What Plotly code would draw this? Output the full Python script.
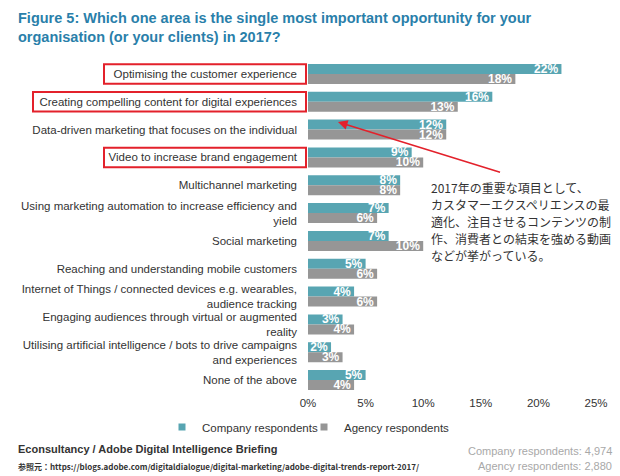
import plotly.graph_objects as go

categories = [
    "Optimising the customer experience",
    "Creating compelling content for digital experiences",
    "Data-driven marketing that focuses on the individual",
    "Video to increase brand engagement",
    "Multichannel marketing",
    "Using marketing automation to increase efficiency and<br>yield",
    "Social marketing",
    "Reaching and understanding mobile customers",
    "Internet of Things / connected devices e.g. wearables,<br>audience tracking",
    "Engaging audiences through virtual or augmented<br>reality",
    "Utilising artificial intelligence / bots to drive campaigns<br>and experiences",
    "None of the above",
]
company = [22, 16, 12, 9, 8, 7, 7, 5, 4, 3, 2, 5]
agency = [18, 13, 12, 10, 8, 6, 10, 6, 6, 4, 3, 4]
x_ticks = [0, 5, 10, 15, 20, 25]
highlighted = [0, 1, 3]

jp_lines = [
    "2017年の重要な項目として、",
    "カスタマーエクスペリエンスの最",
    "適化、注目させるコンテンツの制",
    "作、消費者との結束を強める動画",
    "などが挙がっている。",
]

TEAL = "#58a5b2"
GRAY = "#969696"
FONT = "Liberation Sans, Arial, sans-serif"

W, H = 620, 476
L, R, T, B = 308, 24, 60, 82
PW, PH = W - L - R, H - T - B

def px(x):
    return (x - L) / PW

def py(y):
    return 1 - (y - T) / PH

fig = go.Figure()
series = [("Company respondents", company, TEAL, "legend"), ("Agency respondents", agency, GRAY, "legend2")]
for name, vals, col, leg in series:
    fig.add_trace(go.Bar(
        y=categories, x=vals, orientation="h", name=name,
        marker=dict(color=col, line=dict(width=0)),
        text=[f"{v}%" for v in vals], textposition="inside", insidetextanchor="end",
        textangle=0, constraintext="none",
        insidetextfont=dict(color="white", size=12, family=FONT, weight="bold"),
        showlegend=False, hoverinfo="skip",
    ))
    fig.add_trace(go.Scatter(
        x=[None], y=[None], mode="markers", name=name, legend=leg,
        marker=dict(symbol="square", size=7, color=col),
    ))

shapes = []
box_left = {0: 104, 1: 33, 3: 104}
for i in highlighted:
    shapes.append(dict(
        type="rect", xref="paper", yref="y",
        x0=px(box_left[i]), x1=px(306), y0=i - 0.35, y1=i + 0.35,
        line=dict(color="#e3212b", width=2), fillcolor="rgba(0,0,0,0)",
    ))

annotations = [
    dict(x=px(16), y=py(8), xref="paper", yref="paper", xanchor="left", yanchor="top", align="left",
         text="<b>Figure 5: Which one area is the single most important opportunity for your<br>organisation (or your clients) in 2017?</b>",
         showarrow=False, font=dict(family=FONT, size=14.5, color="#2a7faa")),
    dict(x=2.6, y=1.73, xref="x", yref="y", ax=16.8, ay=3.55, axref="x", ayref="y",
         showarrow=True, arrowhead=2, arrowsize=1.2, arrowwidth=1.6, arrowcolor="#e3212b", text=""),
]
for k, line in enumerate(jp_lines):
    annotations.append(dict(
        x=px(429), y=py(187 + 17 * k), xref="paper", yref="paper", xanchor="left", yanchor="middle",
        text=line, showarrow=False, font=dict(family="Noto Sans CJK JP", size=12, color="#333333"),
    ))
annotations += [
    dict(x=px(16), y=py(449), xref="paper", yref="paper", xanchor="left", yanchor="middle",
         text="<b>Econsultancy / Adobe Digital Intelligence Briefing</b>", showarrow=False,
         font=dict(family=FONT, size=11, color="#333333")),
    dict(x=px(16), y=py(466), xref="paper", yref="paper", xanchor="left", yanchor="middle",
         text="<b>参照元：https://blogs.adobe.com/digitaldialogue/digital-marketing/adobe-digital-trends-report-2017/</b>",
         showarrow=False, font=dict(family="Noto Sans CJK JP", size=8, color="#333333")),
    dict(x=px(614), y=py(451), xref="paper", yref="paper", xanchor="right", yanchor="middle",
         text="Company respondents: 4,974", showarrow=False,
         font=dict(family=FONT, size=11, color="#a8a8a8")),
    dict(x=px(614), y=py(466), xref="paper", yref="paper", xanchor="right", yanchor="middle",
         text="Agency respondents: 2,880", showarrow=False,
         font=dict(family=FONT, size=11, color="#a8a8a8")),
]

legend_style = dict(orientation="h", xanchor="left", y=py(427), yanchor="middle",
                    font=dict(family=FONT, size=11.5, color="#333333"), itemwidth=30,
                    bgcolor="rgba(0,0,0,0)")

fig.update_layout(
    width=W, height=H,
    margin=dict(l=L, r=R, t=T, b=B, pad=0),
    paper_bgcolor="white", plot_bgcolor="white",
    barmode="group", bargap=0.28, bargroupgap=0,
    xaxis=dict(range=[0, 25], tickvals=x_ticks, ticktext=[f"{t}%" for t in x_ticks],
               showgrid=False, zeroline=False, showline=False, ticks="",
               tickfont=dict(family=FONT, size=11.5, color="#333333"), fixedrange=True),
    yaxis=dict(autorange="reversed", showgrid=False, zeroline=False, showline=False, ticks="",
               ticklabelstandoff=10,
               tickfont=dict(family=FONT, size=11.5, color="#333333"), fixedrange=True),
    legend=dict(x=px(162), **legend_style),
    legend2=dict(x=px(304), **legend_style),
    shapes=shapes, annotations=annotations,
)

fig.write_html("out.html", config={"displayModeBar": False},
               post_script="document.body.style.margin='0px';")
